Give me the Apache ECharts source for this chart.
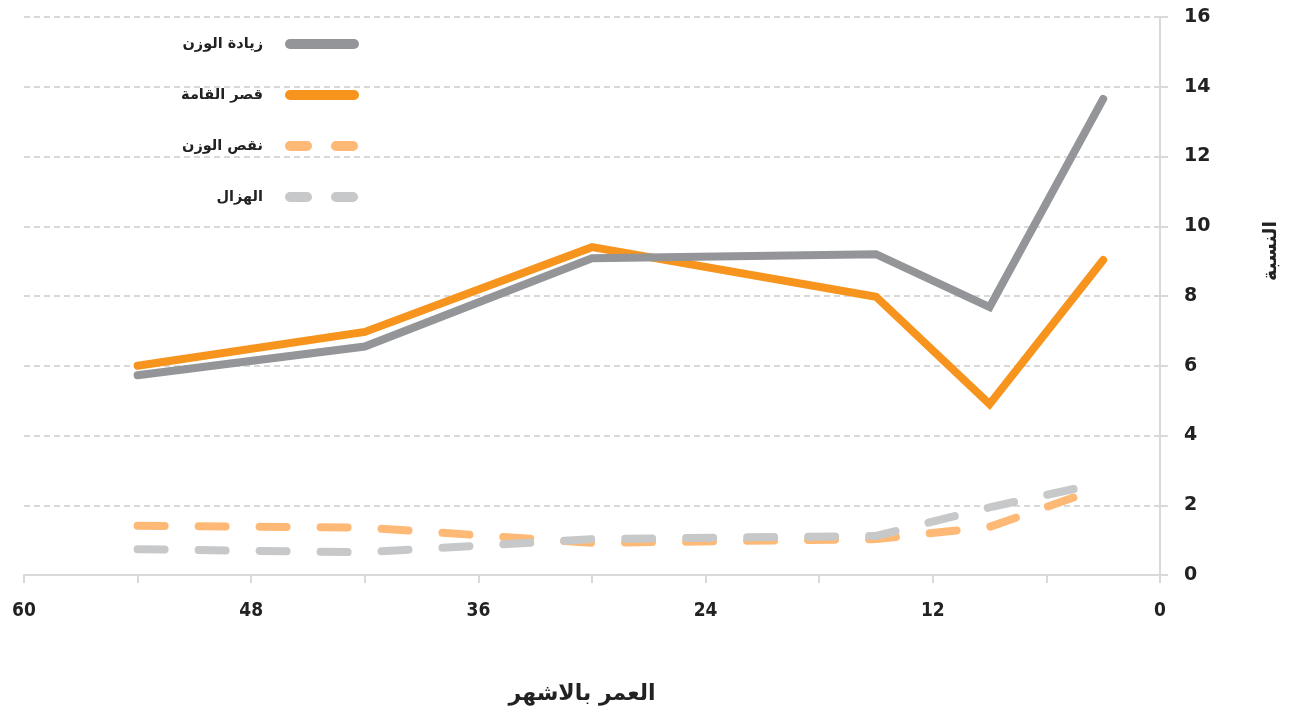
<!DOCTYPE html>
<html>
<head>
<meta charset="utf-8">
<script src="https://cdn.jsdelivr.net/npm/echarts@6/dist/echarts.min.js"></script>
<style>html,body{margin:0;padding:0;background:#fff;}#c{width:1300px;height:719px;}</style>
</head>
<body>
<div id="c"></div>
<script>
const ages = [54, 42, 30, 15, 9, 3];
const overweight = [5.73, 6.55, 9.08, 9.2, 7.68, 13.65];
const stunting = [6.0, 6.97, 9.4, 7.98, 4.9, 9.03];
const underweight = [1.41, 1.36, 0.92, 1.03, 1.38, 2.52];
const wasting = [0.74, 0.65, 1.03, 1.12, 1.94, 2.65];
const seriesNames = ['زيادة الوزن', 'قصر القامة', 'نقص الوزن', 'الهزال'];
const xTitle = 'العمر بالاشهر';
const yTitle = 'النسبة';

const pairs = arr => ages.map((a, i) => [a, arr[i]]);
const chart = echarts.init(document.getElementById('c'));
const dash = [27, 34];
chart.setOption({
  animation: false,
  grid: {left: 24, right: 140, top: 17, bottom: 144},
  legend: {
    orient: 'vertical', align: 'right', right: 936, top: 31,
    itemWidth: 64, itemHeight: 20, itemGap: 35,
    itemStyle: {color: 'rgba(0,0,0,0)', borderWidth: 0, opacity: 0},
    textStyle: {fontFamily: 'DejaVu Sans', fontWeight: 'bold', fontSize: 14.5, color: '#222', padding: [0, 22, 0, 0]},
    data: [
      {name: seriesNames[0], lineStyle: {width: 10, cap: 'round', type: 'solid'}},
      {name: seriesNames[1], lineStyle: {width: 10, cap: 'round', type: 'solid'}},
      {name: seriesNames[2], lineStyle: {width: 10, cap: 'round', type: [17, 29]}},
      {name: seriesNames[3], lineStyle: {width: 10, cap: 'round', type: [17, 29]}}
    ]
  },
  xAxis: {
    type: 'value', inverse: true, min: 0, max: 60, interval: 6,
    name: xTitle, nameLocation: 'middle', nameGap: 108,
    nameTextStyle: {fontFamily: 'DejaVu Sans', fontWeight: 'bold', fontSize: 22, color: '#222', padding: [0, 20, 0, 0]},
    axisLine: {show: true, lineStyle: {color: '#d9d9d9', width: 2}},
    axisTick: {show: true, length: 8, lineStyle: {color: '#d9d9d9', width: 2}},
    axisLabel: {margin: 27, fontFamily: 'Liberation Sans Narrow, DejaVu Sans Condensed, sans-serif', fontWeight: 'bold', fontSize: 19, color: '#222',
      formatter: v => (v % 12 === 0 ? String(v) : '')},
    splitLine: {show: false}
  },
  yAxis: {
    type: 'value', position: 'right', min: 0, max: 16, interval: 2,
    name: yTitle, nameLocation: 'middle', nameGap: 102, nameRotate: 90,
    nameTextStyle: {fontFamily: 'DejaVu Sans', fontWeight: 'bold', fontSize: 19, color: '#222', padding: [0, 0, 0, 90]},
    axisLine: {show: true, lineStyle: {color: '#d9d9d9', width: 2}},
    axisTick: {show: true, length: 8, lineStyle: {color: '#d9d9d9', width: 2}},
    axisLabel: {margin: 24, fontFamily: 'DejaVu Sans', fontWeight: 'bold', fontSize: 19, color: '#222'},
    splitLine: {show: true, lineStyle: {color: '#cccccc', width: 1.5, type: [6, 4]}}
  },
  series: [
    {name: seriesNames[0], type: 'line', data: pairs(overweight), symbol: 'none', z: 4,
      lineStyle: {color: '#939598', width: 8, cap: 'round', join: 'miter'}, itemStyle: {color: '#939598'}},
    {name: seriesNames[1], type: 'line', data: pairs(stunting), symbol: 'none', z: 3,
      lineStyle: {color: '#F7941D', width: 8, cap: 'round', join: 'miter'}, itemStyle: {color: '#F7941D'}},
    {name: seriesNames[2], type: 'line', data: pairs(underweight), symbol: 'none', z: 2,
      lineStyle: {color: '#FDB975', width: 8, type: dash, cap: 'round', join: 'round'}, itemStyle: {color: '#FDB975'}},
    {name: seriesNames[3], type: 'line', data: pairs(wasting), symbol: 'none', z: 2,
      lineStyle: {color: '#C7C8CA', width: 8, type: dash, cap: 'round', join: 'round'}, itemStyle: {color: '#C7C8CA'}}
  ]
});
</script>
</body>
</html>
